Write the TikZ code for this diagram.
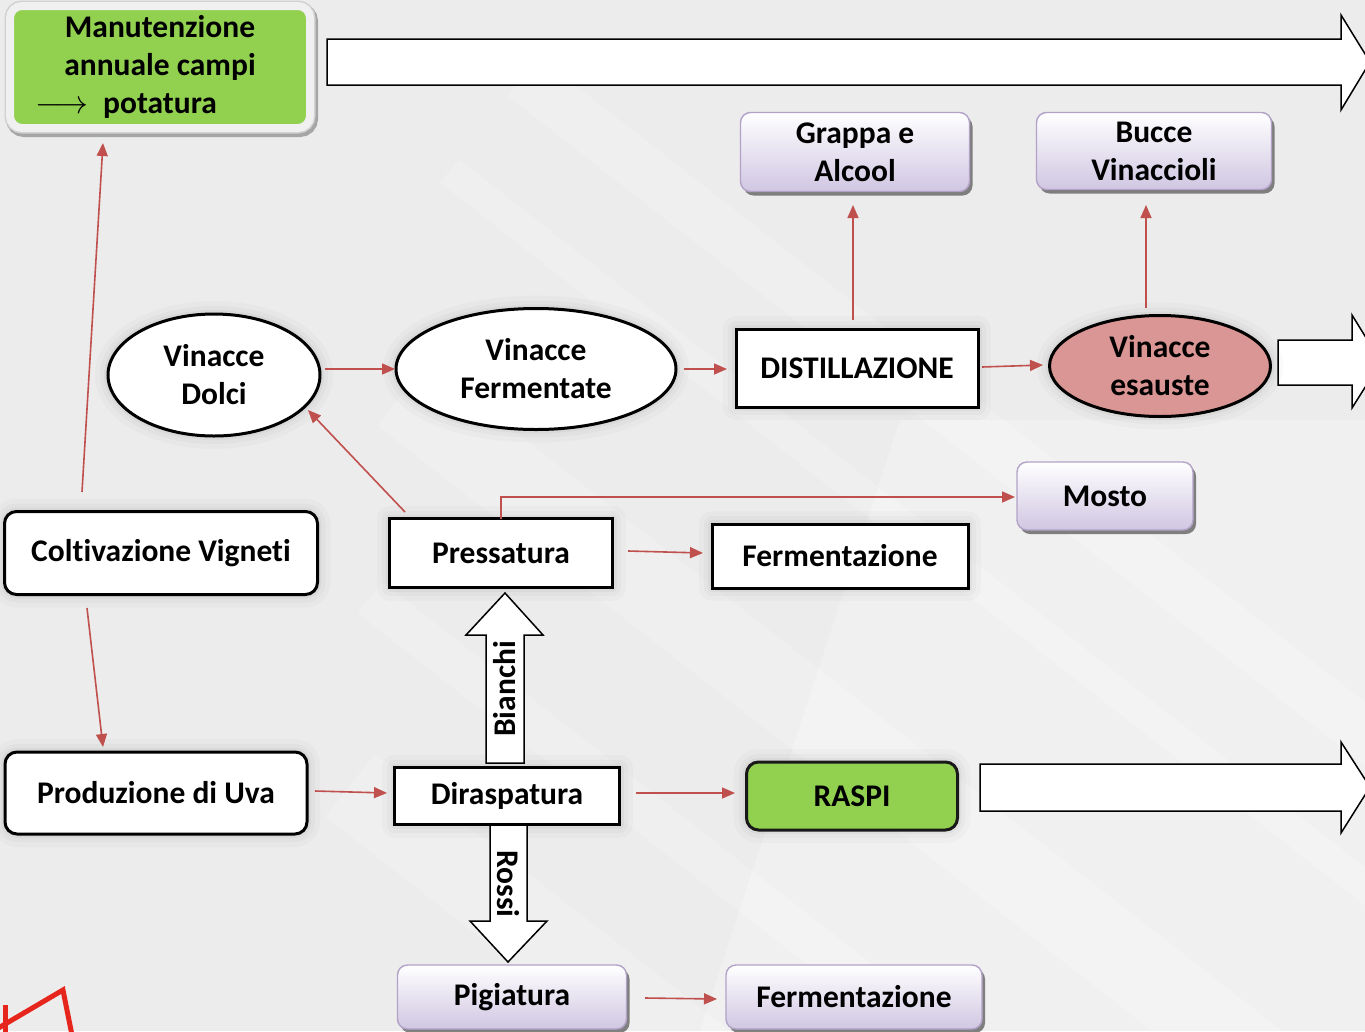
\documentclass[tikz,border=0pt]{standalone}
\usepackage{graphicx}
\usepackage{fontspec}
\setmainfont{Carlito}[Ligatures=NoCommon]
\usetikzlibrary{arrows.meta,shapes.geometric,shadows,calc}
\definecolor{bggray}{RGB}{236,236,236}
\definecolor{leaf}{RGB}{146,208,80}
\definecolor{pinkish}{RGB}{218,150,148}
\definecolor{arrred}{RGB}{192,80,77}
\definecolor{lavbot}{RGB}{208,198,226}
\definecolor{lavline}{RGB}{178,162,199}
\definecolor{markred}{RGB}{230,38,28}
\begin{document}
\begin{tikzpicture}[x=1pt,y=-1pt,
  txt/.style={font=\fontsize{31.5}{38}\selectfont\bfseries, align=center, text=black, inner sep=0pt, outer sep=0pt},
  halo/.style={preaction={draw=black, opacity=0.02, line width=26pt, line join=round},
               preaction={draw=black, opacity=0.025, line width=16pt, line join=round},
               preaction={draw=black, opacity=0.03, line width=8pt, line join=round}},
  blackbox/.style={txt, halo, draw=black, line width=3pt, fill=white},
  roundbox/.style={blackbox, rounded corners=12pt},
  oval/.style={txt, halo, ellipse, draw=black, line width=3pt, fill=white},
  lavbox/.style={txt, rounded corners=10pt, draw=lavline, line width=1.4pt,
     top color=white, bottom color=lavbot,
     drop shadow={shadow xshift=3pt, shadow yshift=-4pt, fill=black!55, opacity=0.9}},
  arr/.style={draw=arrred, line width=1.6pt, -{Triangle[length=13pt,width=11pt]}},
  blockarrow/.style={draw=black, line width=1.5pt, fill=white, line join=miter},
  vlabel/.style={txt}
]
\useasboundingbox (0,0) rectangle (1365,1031);
\clip (0,0) rectangle (1365,1031);
% background
\fill[bggray] (0,0) rectangle (1365,1031);
\begin{scope}[opacity=0.18]
  \fill[white, rotate around={-38:(700,500)}] (300,250) rectangle (1700,300);
  \fill[white, rotate around={-38:(700,500)}] (300,380) rectangle (1700,410);
  \fill[white, rotate around={-38:(700,500)}] (400,560) rectangle (1800,640);
  \fill[white, rotate around={-38:(700,500)}] (500,760) rectangle (1900,800);
  \fill[white, rotate around={-38:(700,500)}] (600,900) rectangle (1900,980);
\end{scope}
\fill[white, opacity=0.25] (900,420) -- (1365,420) -- (1365,1031) -- (700,1031) -- cycle;

% red mark bottom-left
\draw[markred, line width=5pt, line join=miter] (-5,1030) -- (63,990) -- (73,1040);
\draw[markred, line width=5pt] (5,1005) -- (5,1040);

% big block arrows
\draw[blockarrow] (327,39) -- (1341,39) -- (1341,15) -- (1370,62) -- (1341,110) -- (1341,85) -- (327,85) -- cycle;
\draw[blockarrow] (1278,340) -- (1352,340) -- (1352,315) -- (1381,362) -- (1352,408) -- (1352,385) -- (1278,385) -- cycle;
\draw[blockarrow] (980,764) -- (1341,764) -- (1341,742) -- (1370,787) -- (1341,833) -- (1341,811) -- (980,811) -- cycle;

% nodes
\node[txt, fill=leaf, rounded corners=12pt, minimum width=300pt, minimum height=122pt,
      preaction={draw=black!35, line width=12pt, transform canvas={shift={(2pt,-3pt)}}},
      preaction={draw=black!18, line width=11pt},
      draw=black!6, line width=8pt] (manut) at (160,67)
  {Manutenzione\\annuale campi\\\llap{\resizebox{53pt}{!}{$\longrightarrow$}\hspace{15pt}}potatura};

\node[lavbox, minimum width=229pt, minimum height=79pt] (grappa) at (855,152) {Grappa e\\Alcool};
\node[lavbox, minimum width=235pt, minimum height=77pt] (bucce) at (1154,151) {Bucce\\Vinaccioli};

\node[oval, minimum width=212pt, minimum height=122pt] (vdolci) at (214,375) {Vinacce\\Dolci};
\node[oval, minimum width=280pt, minimum height=121pt] (vferm) at (536,369) {Vinacce\\Fermentate};
\node[blackbox, minimum width=242pt, minimum height=78pt] (dist) at (857,368) {DISTILLAZIONE};
\node[oval, fill=pinkish, minimum width=221pt, minimum height=101pt] (vesau) at (1160,366) {Vinacce\\esauste};

\node[lavbox, minimum width=176pt, minimum height=68pt] (mosto) at (1105,496) {Mosto};
\node[roundbox, minimum width=313pt, minimum height=83pt] (colt) at (161,553) {Coltivazione Vigneti};
\node[blackbox, minimum width=223pt, minimum height=69pt] (press) at (501,553) {Pressatura};
\node[blackbox, minimum width=256pt, minimum height=64pt] (ferm1) at (840,556) {Fermentazione};

\node[roundbox, minimum width=302pt, minimum height=82pt] (prod) at (156,793) {Produzione di Uva};
\node[blackbox, minimum width=225pt, minimum height=57pt] (dira) at (507,796) {Diraspatura};
\node[roundbox, fill=leaf, draw=black!90, minimum width=211pt, minimum height=68pt] (raspi) at (852,796) {RASPI};

\node[lavbox, minimum width=229pt, minimum height=64pt] (pig) at (512,997) {Pigiatura};
\node[lavbox, minimum width=256pt, minimum height=64pt] (ferm2) at (854,997) {Fermentazione};

% Bianchi / Rossi block arrows
\draw[blockarrow] (486,763) -- (486,635) -- (466,635) -- (505,593) -- (543,635) -- (524,635) -- (524,763) -- cycle;
\node[vlabel, rotate=90] (bianchi) at (505,689) {Bianchi};
\draw[blockarrow] (490,825) -- (490,921) -- (470,921) -- (508,962) -- (547,921) -- (527,921) -- (527,825) -- cycle;
\node[vlabel, rotate=-90] (rossi) at (508,884) {Rossi};

% connectors
\draw[arr] ($(colt.north)+(-79,-19.5)$) -- ($(manut.south)+(-57,15)$);
\draw[arr] ($(colt.south)+(-74,13.5)$) -- ($(prod.north)+(-53,-5)$);
\draw[arr] ($(prod.east)+(8,-2)$) -- ($(dira.west)+(-7.5,-3)$);
\draw[arr] ($(dira.east)+(16.5,-3)$) -- ($(raspi.west)+(-11.5,-3)$);
\draw[arr] ($(pig.east)+(18.5,1)$) -- ($(ferm2.west)+(-9,2)$);
\draw[arr] ($(press.east)+(15.5,-2)$) -- ($(ferm1.west)+(-9,-3)$);
\draw[arr] ($(press.north)+(-96,-6.5)$) -- ($(vdolci.center)+(94,35)$);
\draw[arr] (press.north) |- ($(mosto.west)+(-2,1)$);
\draw[arr] ($(vdolci.east)+(5,-6)$) -- ($(vferm.west)+(-1,0)$);
\draw[arr] ($(vferm.east)+(8,0)$) -- ($(dist.west)+(-9,1)$);
\draw[arr] ($(dist.east)+(4,-1)$) -- ($(vesau.west)+(-6.5,-1)$);
\draw[arr] ($(dist.north)+(-4,-9)$) -- ($(grappa.south)+(-2,13.5)$);
\draw[arr] ($(vesau.north)+(-14,-7.5)$) -- ($(bucce.south)+(-8,15.5)$);
\end{tikzpicture}
\end{document}
